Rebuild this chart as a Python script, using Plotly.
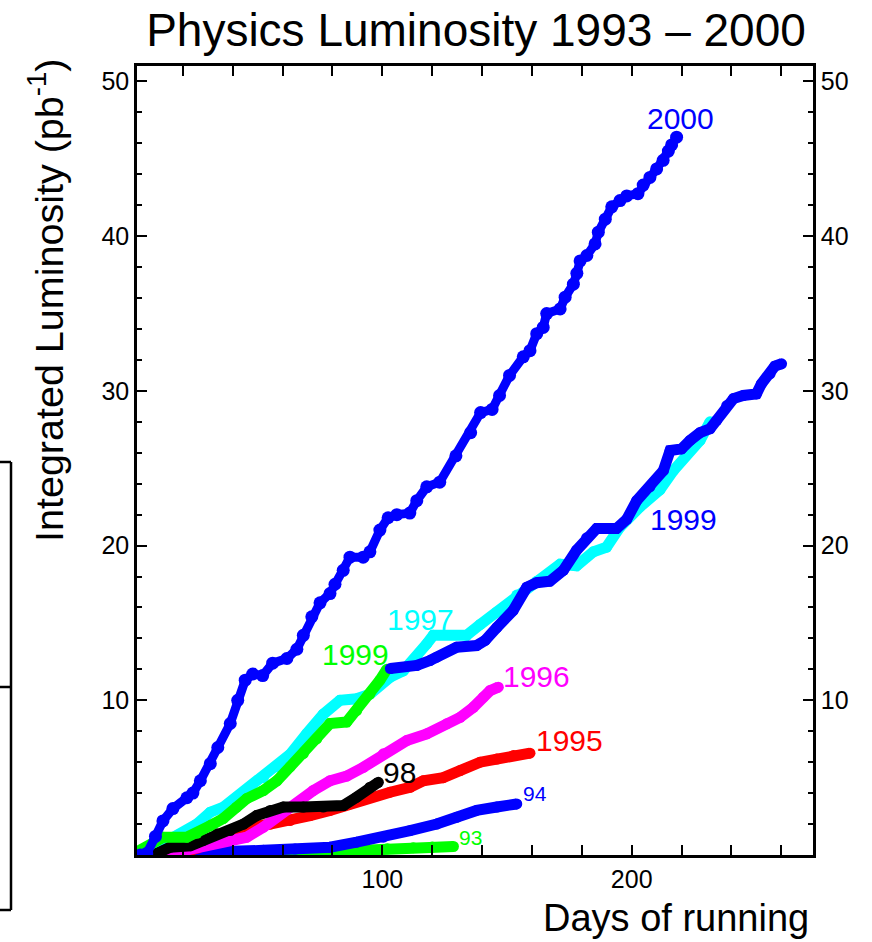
import plotly.graph_objects as go

# Integrated luminosity (pb^-1) versus days of running, one series per year
days_1993 = [32, 50, 65.7, 80, 92.4, 102, 112.4, 120, 128.5]
lumi_1993 = [0.0, 0.03, 0.08, 0.18, 0.3, 0.4, 0.47, 0.51, 0.55]

days_1994 = [6.8, 15, 25.6, 40, 52.3, 65, 79, 89.7, 100.4, 111.1, 121.8, 129.8, 137.8, 145.9, 153.9]
lumi_1994 = [0.0, 0.1, 0.18, 0.24, 0.3, 0.38, 0.5, 0.83, 1.15, 1.58, 2.0, 2.44, 2.88, 3.1, 3.3]

days_1995 = [20, 26, 32.2, 38.9, 47, 55, 63, 71, 79, 87, 95, 103.1, 111.1, 116.4, 124.4,
             131.2, 139.2, 145.9, 152.6, 159.2]
lumi_1995 = [0.1, 0.45, 0.83, 1.26, 1.8, 2.0, 2.23, 2.55, 2.88, 3.3, 3.74, 4.06, 4.38, 4.8, 5.0,
             5.46, 6.0, 6.2, 6.43, 6.58]

days_1996 = [15, 25.6, 36.3, 45.6, 52.3, 59, 65.7, 72.3, 79, 85.7, 92.4, 100.4, 109.8, 117.8,
             125.8, 131.2, 136.5, 140.5, 143.2, 146.5]
lumi_1996 = [0.1, 0.5, 0.94, 1.15, 1.8, 2.66, 3.3, 4.17, 4.8, 5.1, 5.67, 6.54, 7.4, 7.83,
             8.48, 8.9, 9.55, 10.2, 10.63, 10.85]

days_1997 = [3, 10, 18, 25.6, 31, 36.3, 41.6, 47, 52.3, 57.7, 63, 69.7, 76.3, 83, 89.7, 95,
             103.2, 108.4, 113.8, 117.8, 120.4, 133.8, 139.2, 145.9, 153.9, 161.9, 171.3,
             177.9, 184.6, 189.9, 195.3, 203.3, 211.3, 216.7, 222.1, 227.4, 231.4]
lumi_1997 = [0.0, 0.7, 1.3, 2.0, 2.77, 3.1, 3.74, 4.4, 5.0, 5.7, 6.5, 7.85, 9.1, 10.0, 10.1, 10.4,
             11.5, 11.9, 12.8, 13.65, 14.2, 14.2, 14.9, 15.7, 16.8, 17.7, 18.8,
             18.7, 19.6, 19.9, 21.2, 22.5, 23.6, 24.85, 25.9, 26.8, 28.0]

days_1998 = [9.5, 14.9, 23, 28.2, 33.6, 39, 44.3, 49.6, 55, 60.3, 68.3, 76.3, 84.4, 89.7, 95, 98.4]
lumi_1998 = [0.1, 0.5, 0.6, 0.94, 1.37, 1.58, 2.0, 2.55, 2.88, 3.1, 3.1, 3.1, 3.2, 3.74, 4.38, 4.7]

# 1999 run, first part (green) and continuation (blue)
days_1999a = [1.5, 12.2, 21.6, 25.6, 31, 36.2, 41.6, 45.6, 52.3, 57.7, 63, 68.3, 73.7, 79,
              85.7, 89.7, 95, 99, 101.8]
lumi_1999a = [0.2, 1.15, 1.15, 1.4, 1.9, 2.36, 3.1, 3.65, 4.17, 4.8, 5.7, 6.55, 7.5, 8.5,
              8.6, 9.34, 10.4, 11.3, 12.0]

days_1999b = [103.2, 113.8, 119.1, 121.8, 129.8, 137.8, 141.2, 145.9, 152.4, 157.9, 161.9,
              167.2, 172.6, 177.9, 181.9, 185.9, 193.9, 198, 202, 207.3, 212.7, 215.4, 220,
              223.4, 227.4, 231.4, 234.1, 238.1, 240.8, 244.7, 250, 252, 255.5, 257.4, 260.1]
lumi_1999b = [12.05, 12.25, 12.57, 12.79, 13.43, 13.54, 13.87, 14.7, 15.8, 17.3, 17.6,
              17.7, 18.4, 19.7, 20.5, 21.1, 21.1, 21.7, 22.9, 23.8, 24.85, 26.15, 26.25,
              26.8, 27.3, 27.55, 28.1, 29.05, 29.5, 29.7, 29.8, 30.45, 31.1, 31.6, 31.75]

days_2000 = [3, 5.5, 9, 12, 16, 21.6, 24, 27, 31, 34, 39, 42, 45, 48, 52, 56, 61.7, 65.7, 68.3,
             71.7, 75, 79, 81, 84.3, 87, 92.3, 95, 99, 102.3, 105.8, 111, 113.8, 117.8, 123,
             129.5, 135.4, 139.4, 144, 147, 151, 156.5, 159.2, 161.9, 164.5, 165.9, 171.3,
             173.3, 176.6, 178, 179.3, 182, 185.3, 186.6, 189.4, 192, 195.3, 198, 202.5,
             204.6, 207.3, 210, 212.6, 214.7, 216, 218]
lumi_2000 = [0.0, 0.1, 1.2, 2.2, 3.0, 3.7, 4.0, 4.8, 5.9, 6.95, 8.5, 10.0, 11.3, 11.7, 11.6, 12.4,
             12.7, 13.3, 14.2, 15.4, 16.3, 16.9, 17.5, 18.4, 19.25, 19.25, 19.6, 21.0, 21.8,
             22.0, 22.1, 22.9, 23.8, 24.1, 25.8, 27.3, 28.6, 28.8, 29.7, 31.0, 32.2, 32.6,
             33.7, 34.1, 35.0, 35.3, 36.06, 36.9, 37.6, 38.4, 38.75, 39.5, 40.26, 41.1, 41.9,
             42.3, 42.6, 42.75, 43.3, 43.8, 44.35, 44.9, 45.5, 45.9, 46.4]

# Year labels placed beside each curve: text, x, y, colour, font size
label_text = ["2000", "1999", "1997", "1999", "1996", "1995", "98", "94", "93"]
label_x = [219.4, 220.7, 115.4, 89.3, 161.7, 174.9, 107.0, 161.2, 135.2]
label_y = [47.6, 21.7, 15.2, 12.96, 11.54, 7.43, 5.35, 3.96, 1.1]
label_color = ["#0000ff", "#0000ff", "#00ffff", "#00ff00", "#ff00ff", "#ff0000", "#000000",
               "#0000ff", "#00ff00"]
label_size = [30, 30, 30, 30, 30, 30, 30, 21, 21]

x_range = [1.6, 272.7]
y_range = [0, 51.0]

FONT = "Liberation Sans"

series = [
    (days_1993, lumi_1993, "#00ff00", 11, 11),
    (days_1994, lumi_1994, "#0000ff", 11, 11),
    (days_1995, lumi_1995, "#ff0000", 11, 11),
    (days_1996, lumi_1996, "#ff00ff", 11, 11),
    (days_1997, lumi_1997, "#00ffff", 11, 11),
    (days_1998, lumi_1998, "#000000", 11, 11),
    (days_1999a, lumi_1999a, "#00ff00", 11, 11),
    (days_1999b, lumi_1999b, "#0000ff", 11, 11),
    (days_2000, lumi_2000, "#0000ff", 9, 13),
]

fig = go.Figure()
for xs, ys, col, lw, ms in series:
    fig.add_trace(go.Scatter(
        x=xs, y=ys, mode="lines+markers",
        line=dict(color=col, width=lw),
        marker=dict(color=col, size=ms, line=dict(width=0)),
        showlegend=False, hoverinfo="skip",
    ))

# invisible trace so the right-hand axis is drawn
fig.add_trace(go.Scatter(x=[x_range[0]], y=[y_range[0]], yaxis="y2", mode="markers",
                         marker=dict(opacity=0), showlegend=False, hoverinfo="skip"))

for t, x, y, c, s in zip(label_text, label_x, label_y, label_color, label_size):
    fig.add_annotation(x=x, y=y, text=t, showarrow=False, xanchor="center", yanchor="middle",
                       font=dict(family=FONT, size=s, color=c))

axis_common = dict(
    showgrid=False, zeroline=False, showline=True, linecolor="black", linewidth=2.5,
    ticks="inside", ticklen=10, tickwidth=1.5, tickcolor="black",
    tickfont=dict(family=FONT, size=25, color="black"),
)

fig.update_layout(
    width=872, height=942,
    margin=dict(l=137, r=59, t=66, b=87),
    paper_bgcolor="white", plot_bgcolor="white",
    font=dict(family=FONT, color="black"),
    title=dict(text="Physics Luminosity 1993 – 2000", x=476 / 872, xanchor="center",
               y=1 - 30 / 942, yanchor="middle", xref="container",
               font=dict(family=FONT, size=46, color="black")),
    xaxis=dict(range=x_range, tickvals=[100, 200], mirror="allticks",
               minor=dict(dtick=20, tick0=0, ticks="inside", ticklen=5, tickwidth=1.5,
                          tickcolor="black"),
               **axis_common),
    yaxis=dict(range=y_range, tickvals=[10, 20, 30, 40, 50], mirror=False,
               minor=dict(dtick=2, tick0=0, ticks="inside", ticklen=5, tickwidth=1.5,
                          tickcolor="black"),
               **axis_common),
    yaxis2=dict(range=y_range, tickvals=[10, 20, 30, 40, 50], overlaying="y", side="right",
                minor=dict(dtick=2, tick0=0, ticks="inside", ticklen=5, tickwidth=1.5,
                           tickcolor="black"),
                **axis_common),
)

# axis titles
fig.add_annotation(xref="paper", yref="paper", x=(46 - 137) / 676, y=(855 - 301) / 789,
                   text="Integrated Luminosity (pb<sup>-1</sup>)", textangle=-90,
                   showarrow=False, xanchor="center", yanchor="middle",
                   font=dict(family=FONT, size=39.5, color="black"))
fig.add_annotation(xref="paper", yref="paper", x=(811 - 137) / 676, y=(855 - 918) / 789,
                   text="Days of running", showarrow=False, xanchor="right", yanchor="middle",
                   font=dict(family=FONT, size=38, color="black"))

# bracket drawn in the left margin
bx = (11 - 137) / 676
bx0 = (0 - 137) / 676
def py(p):
    return (855 - p) / 789
for y0, y1, x0, x1 in [(462, 910, bx, bx), (462, 462, bx0, bx), (687, 687, bx0, bx),
                       (910, 910, bx0, bx)]:
    fig.add_shape(type="line", xref="paper", yref="paper", x0=x0, x1=x1, y0=py(y0), y1=py(y1),
                  line=dict(color="black", width=2.5))

fig.write_html("out.html")
